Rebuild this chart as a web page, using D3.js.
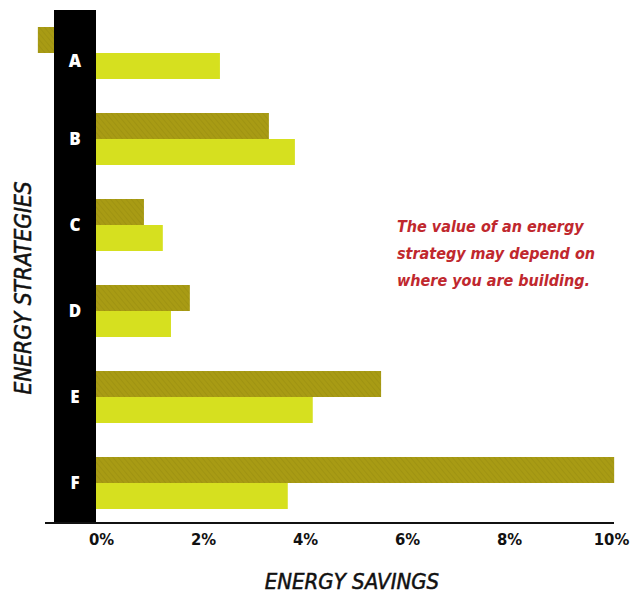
<!DOCTYPE html>
<html>
<head>
<meta charset="utf-8">
<script src="https://cdnjs.cloudflare.com/ajax/libs/d3/7.8.5/d3.min.js"></script>
<style>
	body { margin: 0; background: #fff; }
	svg text { font-family: "DejaVu Sans Condensed", "DejaVu Sans", sans-serif; }
</style>
</head>
<body>
<div id="chart"></div>
<script>
	// Data
	let strategies = ['A', 'B', 'C', 'D', 'E', 'F'];
	let savings_dark = [-1.14, 3.39, 0.94, 1.84, 5.59, 10.16];
	let savings_light = [2.43, 3.9, 1.31, 1.47, 4.25, 3.76];
	let tick_values = [0, 2, 4, 6, 8, 10];
	let note_lines = ['The value of an energy', 'strategy may depend on', 'where you are building.'];

	let DARK = '#a89b14';
	let LIGHT = '#d6e01f';

	var svg_width = 633,
		svg_height = 594;

	var svg = d3.select("#chart").append("svg")
		.attr("width", svg_width)
		.attr("height", svg_height);

	var x = d3.scaleLinear()
		.domain([0, 10])
		.range([96, 606]);

	var y = d3.scaleBand()
		.domain(strategies)
		.range([10, 526]);

	var barH = 26;

	// faint texture on the dark bars
	var pat = svg.append("defs").append("pattern")
		.attr("id", "hatch")
		.attr("width", 4).attr("height", 4)
		.attr("patternUnits", "userSpaceOnUse")
		.attr("patternTransform", "rotate(-40)");
	pat.append("rect").attr("width", 4).attr("height", 4).attr("fill", DARK);
	pat.append("line").attr("x1", 0).attr("y1", 0).attr("x2", 0).attr("y2", 4)
		.attr("stroke", "#978b10").attr("stroke-width", 1);

	// dark bars (top of each group)
	svg.selectAll("rect.dark")
		.data(strategies)
		.enter()
		.append("rect")
		.attr("class", "dark")
		.attr("x", (d, i) => Math.min(x(0), x(savings_dark[i])))
		.attr("width", (d, i) => Math.abs(x(savings_dark[i]) - x(0)))
		.attr("y", d => y(d) + y.bandwidth() / 2 - barH)
		.attr("height", barH)
		.attr("fill", "url(#hatch)");

	// light bars (bottom of each group)
	svg.selectAll("rect.light")
		.data(strategies)
		.enter()
		.append("rect")
		.attr("class", "light")
		.attr("x", (d, i) => Math.min(x(0), x(savings_light[i])))
		.attr("width", (d, i) => Math.abs(x(savings_light[i]) - x(0)))
		.attr("y", d => y(d) + y.bandwidth() / 2)
		.attr("height", barH)
		.attr("fill", LIGHT);

	// black category band
	svg.append("rect")
		.attr("x", 54)
		.attr("y", 10)
		.attr("width", x(0) - 54)
		.attr("height", 513)
		.attr("fill", "#000");

	svg.selectAll("text.cat")
		.data(strategies)
		.enter()
		.append("text")
		.attr("class", "cat")
		.attr("x", 75)
		// A's dark bar sits behind the band, so its letter drops a little
		.attr("y", (d, i) => y(d) + y.bandwidth() / 2 + (savings_dark[i] < 0 ? 8 : 0))
		.attr("dy", "0.36em")
		.attr("text-anchor", "middle")
		.attr("fill", "#fff")
		.style("font-family", "'Open Sans', sans-serif")
		.style("font-weight", "800")
		.style("font-size", "17px")
		.text(d => d);

	// baseline
	svg.append("line")
		.attr("x1", 45).attr("x2", 614)
		.attr("y1", 523).attr("y2", 523)
		.attr("stroke", "#111")
		.attr("stroke-width", 2);

	// x axis
	var xAxis = svg.append("g")
		.attr("transform", "translate(5,530)")
		.call(d3.axisBottom(x).tickValues(tick_values).tickSize(0).tickFormat(d => d + "%"));
	xAxis.select(".domain").remove();
	xAxis.selectAll("text")
		.attr("fill", "#111")
		.style("font-family", "'DejaVu Sans Condensed', sans-serif")
		.style("font-weight", "bold")
		.style("font-size", "16.5px");

	// axis titles
	svg.append("text")
		.attr("x", 352)
		.attr("y", 589)
		.attr("text-anchor", "middle")
		.attr("fill", "#111")
		.attr("stroke", "#111")
		.attr("stroke-width", 0.5)
		.style("font-style", "italic")
		.style("font-size", "22px")
		.text("ENERGY SAVINGS");

	svg.append("text")
		.attr("transform", "translate(31,288) rotate(-90)")
		.attr("text-anchor", "middle")
		.attr("fill", "#111")
		.attr("stroke", "#111")
		.attr("stroke-width", 0.5)
		.style("font-style", "italic")
		.style("font-size", "22.5px")
		.text("ENERGY STRATEGIES");

	// annotation
	svg.selectAll("text.note")
		.data(note_lines)
		.enter()
		.append("text")
		.attr("class", "note")
		.attr("x", 397)
		.attr("y", (d, i) => 232 + i * 27)
		.attr("fill", "#c0282e")
		.style("font-style", "italic")
		.style("font-weight", "bold")
		.style("font-size", "16px")
		.text(d => d);
</script>
</body>
</html>
